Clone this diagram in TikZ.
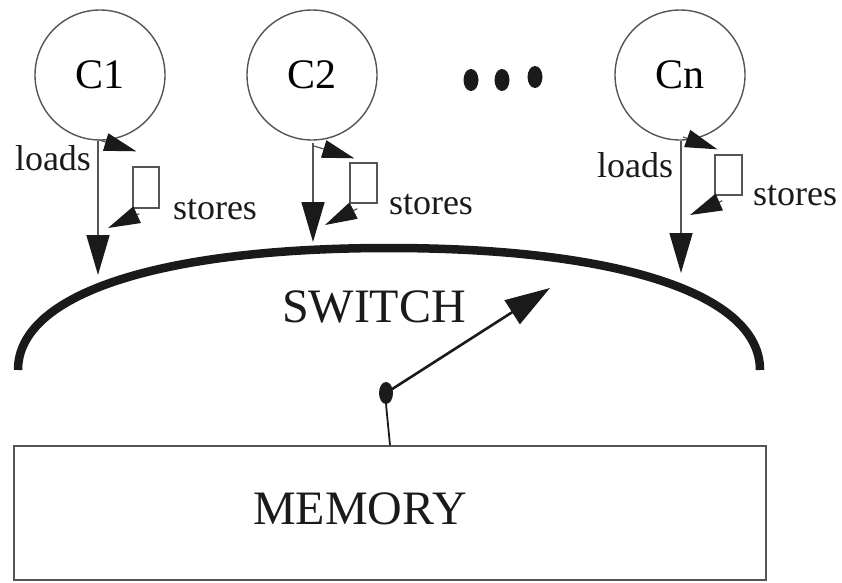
\documentclass[tikz,border=0pt]{standalone}
\usepackage{fontspec}
\setmainfont{Liberation Serif}
\usetikzlibrary{arrows.meta,shapes.geometric}
\definecolor{linegray}{HTML}{555555}
\definecolor{ink}{HTML}{1A1A1A}
\tikzset{
  cpu/.style={circle,draw=linegray,line width=1.4pt,minimum size=130pt,inner sep=0pt,font=\fontsize{42}{48}\selectfont},
  lbl/.style={inner sep=0pt,font=\fontsize{36}{42}\selectfont,text=ink},
  bigtext/.style={inner sep=0pt,font=\fontsize{48}{56}\selectfont,text=ink},
  sbuf/.style={rectangle,draw=linegray,line width=1.4pt,inner sep=0pt},
  loadarrow/.style={draw=linegray,line width=1.6pt,-{Triangle[length=40pt,width=23pt,fill=ink,color=ink]}},
  storearrow/.style={draw=linegray,line width=1.2pt,-{Triangle[length=32pt,width=18pt,fill=ink,color=ink]}},
  dotmark/.style={ellipse,fill=ink,inner sep=0pt,minimum width=15pt,minimum height=22pt},
  switchline/.style={draw=ink,line width=8.5pt,line cap=butt},
  membox/.style={rectangle,draw=linegray,line width=1.8pt,inner sep=0pt,minimum width=752pt,minimum height=134pt},
}
\begin{document}
\begin{tikzpicture}[x=1pt,y=-1pt]
\useasboundingbox (0,0) rectangle (842,582);
% processors
\node[cpu] (c1) at (100,75) {C1};
\node[cpu] (c2) at (312,75) {C2};
\node[cpu] (cn) at (680,75) {Cn};
\node[dotmark] (d1) at (471,80) {};
\node[dotmark] (d2) at (502,80) {};
\node[dotmark] (d3) at (535,77) {};
% store buffers
\node[sbuf,minimum width=26pt,minimum height=41pt] (b1) at (146,187.5) {};
\node[sbuf,minimum width=27pt,minimum height=40pt] (b2) at (363.5,183) {};
\node[sbuf,minimum width=27pt,minimum height=40pt] (bn) at (728.5,175) {};
% labels
\node[lbl] (ld1) at (53,158) {loads};
\node[lbl] (ldn) at (635,165) {loads};
\node[lbl] (st1) at (215,210) {stores};
\node[lbl] (st2) at (431,205) {stores};
\node[lbl] (stn) at (795,196) {stores};
% switch
\coordinate (swl) at (18,370);
\coordinate (swr) at (760,370);
\coordinate (swtop) at (389,248);
\draw[switchline] (swl) .. controls (18,294) and (159,248) .. (swtop)
                        .. controls (619,248) and (760,294) .. (swr);
\node[bigtext] (sw) at (374,307) {SWITCH};
% load arrows
\coordinate (t1) at (98,275);
\coordinate (t2) at (313,242);
\coordinate (tn) at (681,273);
\draw[loadarrow] (c1.south -| t1) -- (t1);
\draw[loadarrow] (313,143) -- (t2);
\draw[loadarrow] (cn.south -| tn) -- (tn);
% store arrows (to buffer)
\coordinate (s1a) at (99,140);
\coordinate (s2a) at (314,146);
\coordinate (sna) at (683,137);
\draw[storearrow] (s1a) -- ([shift={(4pt,15pt)}]b1.north west);
\draw[storearrow] (s2a) -- ([shift={(5pt,4pt)}]b2.north west);
\draw[storearrow] (sna) -- ([shift={(3pt,5pt)}]bn.north west);
% store arrows (from buffer)
\coordinate (s1b) at (108,228);
\coordinate (s2b) at (325,225);
\coordinate (snb) at (690,215);
\draw[storearrow] ([shift={(7pt,-5pt)}]b1.south west) -- (s1b);
\draw[storearrow] ([shift={(8pt,-5pt)}]b2.south west) -- (s2b);
\draw[storearrow] ([shift={(8pt,-5pt)}]bn.south west) -- (snb);
% memory
\node[membox] (mem) at (390,513) {};
\node[bigtext] (memlabel) at (360,509) {MEMORY};
\node[dotmark,minimum width=14pt] (knob) at (386,393) {};
\coordinate (swtip) at (550,288);
\draw[draw=ink,line width=1.8pt] (knob.south) -- (mem.north);
\draw[draw=ink,line width=2.6pt,-{Triangle[length=45pt,width=28pt,fill=ink,color=ink]}] (knob.center) -- (swtip);
\end{tikzpicture}
\end{document}
